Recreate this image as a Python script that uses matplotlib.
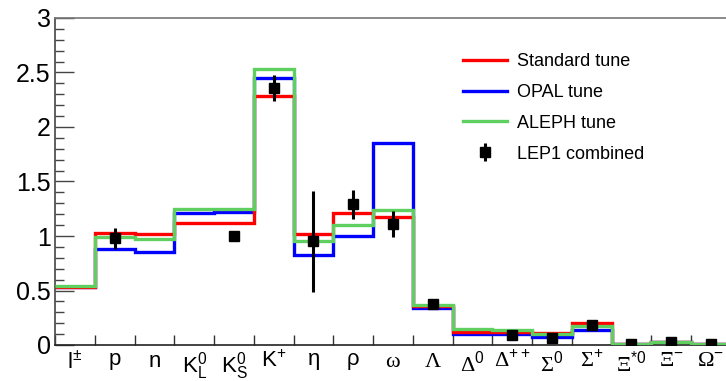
import numpy as np
import matplotlib
matplotlib.use("Agg")
import matplotlib.pyplot as plt
from matplotlib.ticker import MultipleLocator, FixedLocator

plt.rcParams['font.family'] = ['Liberation Sans', 'DejaVu Sans']
plt.rcParams['mathtext.fontset'] = 'custom'
plt.rcParams['mathtext.rm'] = 'Liberation Sans'
plt.rcParams['mathtext.it'] = 'Liberation Sans:italic'
plt.rcParams['mathtext.sf'] = 'Liberation Serif'

# particle species (bins)
labels = [r'$\mathrm{l}^{\pm}$', r'$\mathrm{p}$', r'$\mathrm{n}$',
          r'$\mathrm{K}^{0}_{\mathrm{L}}$', r'$\mathrm{K}^{0}_{\mathrm{S}}$', r'$\mathrm{K}^{+}$',
          r'$\mathrm{η}$', r'$\mathrm{ρ}$', r'$\mathsf{ω}$', r'$\mathsf{Λ}$',
          r'$\mathsf{Δ}^{0}$', r'$\mathsf{Δ}^{++}$', r'$\mathsf{Σ}^{0}$', r'$\mathsf{Σ}^{+}$',
          r'$\mathsf{Ξ}^{*0}$', r'$\mathsf{Ξ}^{-}$', r'$\mathsf{Ω}^{-}$']

standard = [0.53, 1.03, 1.02, 1.12, 1.12, 2.28, 1.02, 1.21, 1.17, 0.36, 0.12, 0.12, 0.11, 0.205, 0.01, 0.03, 0.005]
opal     = [0.53, 0.88, 0.85, 1.21, 1.22, 2.45, 0.83, 1.00, 1.85, 0.34, 0.10, 0.10, 0.07, 0.14, 0.01, 0.025, 0.005]
aleph    = [0.54, 0.99, 0.97, 1.245, 1.25, 2.53, 0.95, 1.10, 1.24, 0.37, 0.147, 0.14, 0.10, 0.175, 0.012, 0.03, 0.008]

# LEP1 combined measurements (bin index, value, error)
lep_idx = [1, 4, 5, 6, 7, 8, 9, 11, 12, 13, 14, 15, 16]
lep_val = [0.98, 1.00, 2.36, 0.95, 1.29, 1.11, 0.375, 0.088, 0.065, 0.18, 0.005, 0.025, 0.005]
lep_err = [0.095, 0.01, 0.12, 0.46, 0.13, 0.115, 0.01, 0.005, 0.005, 0.01, 0.001, 0.002, 0.001]

edges = np.arange(len(labels) + 1)
centers = edges[:-1] + 0.5

fig = plt.figure(figsize=(7.26, 3.81), dpi=100)
ax = fig.add_axes([55/726, 36/381, 1 - 55/726, (345 - 18)/381])

lw = 2.4
ax.stairs(opal, edges, baseline=None, color='#0000ff', lw=lw, label='OPAL tune', zorder=2)
ax.stairs(standard, edges, baseline=None, color='#ff0000', lw=lw, label='Standard tune', zorder=2)
ax.stairs(aleph, edges, baseline=None, color='#5fcf5f', lw=lw, label='ALEPH tune', zorder=3)
ax.errorbar(centers[lep_idx], lep_val, yerr=lep_err, fmt='s', color='black', ms=7,
            elinewidth=2.2, capsize=0, label='LEP1 combined', zorder=4)

ax.set_xlim(0, 16.88)
ax.set_ylim(0, 3)

ax.xaxis.set_major_locator(FixedLocator(edges))
ax.xaxis.set_major_formatter(plt.NullFormatter())
ax.xaxis.set_minor_locator(FixedLocator(centers))
ax.set_xticks(centers, labels, minor=True)
ax.tick_params(axis='x', which='major', direction='in', length=7, width=1, color='#333333')
ax.tick_params(axis='x', which='minor', length=0, labelsize=16, pad=4)

ax.yaxis.set_major_locator(MultipleLocator(0.5))
ax.yaxis.set_minor_locator(MultipleLocator(0.1))
ax.set_yticks([0, 0.5, 1, 1.5, 2, 2.5, 3], ['0', '0.5', '1', '1.5', '2', '2.5', '3'])
ax.tick_params(axis='y', which='major', direction='in', length=14, width=1, color='#444444',
               labelsize=18, pad=3)
ax.tick_params(axis='y', which='minor', direction='in', length=6.5, width=1, color='#444444')

ax.spines['right'].set_visible(False)
ax.spines['top'].set_color('#777777')
ax.spines['left'].set_color('#444444')
ax.spines['bottom'].set_color('#222222')
for s in ax.spines.values():
    s.set_linewidth(1.2)

h, l = ax.get_legend_handles_labels()
order = [1, 0, 2, 3]
ax.legend([h[i] for i in order], [l[i] for i in order], loc='upper left',
          bbox_to_anchor=(463/726, 1 - 53/381), bbox_transform=fig.transFigure,
          frameon=False, fontsize=13, handlelength=2.45, handletextpad=0.55,
          labelspacing=0.77, borderpad=0, borderaxespad=0)

plt.savefig("out.png", dpi=100)
